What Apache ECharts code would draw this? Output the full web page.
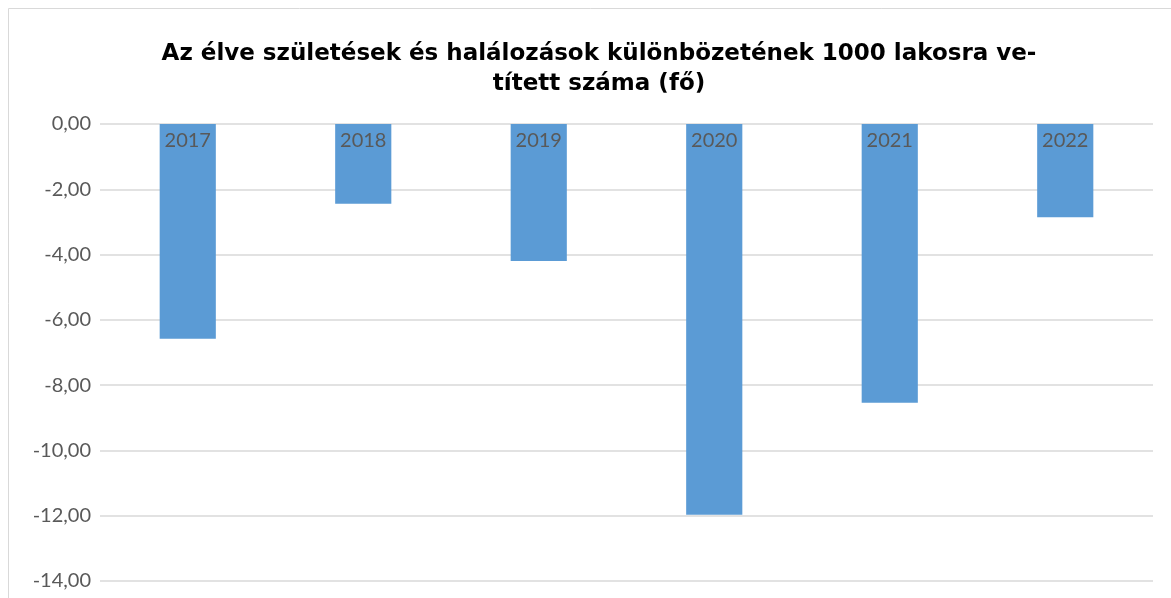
<!DOCTYPE html>
<html>
<head>
<meta charset="utf-8">
<script src="https://cdn.jsdelivr.net/npm/echarts@6/dist/echarts.min.js"></script>
<style>
  html, body { margin: 0; padding: 0; background: #fff; }
  #main { width: 1171px; height: 598px; }
</style>
</head>
<body>
<div id="main"></div>
<script>
  // évek
  const years = ['2017', '2018', '2019', '2020', '2021', '2022'];
  // élve születések és halálozások különbsége 1000 lakosra
  const values = [-6.58, -2.44, -4.20, -11.97, -8.54, -2.86];
  const titleText = 'Az élve születések és halálozások különbözetének 1000 lakosra ve-\ntített száma (fő)';

  const chart = echarts.init(document.getElementById('main'));

  const option = {
    animation: false,
    graphic: [{
      type: 'rect',
      shape: { x: 8.5, y: 8.5, width: 1300, height: 800 },
      style: { fill: 'none', stroke: '#d9d9d9', lineWidth: 1 },
      silent: true
    }],
    title: {
      text: titleText,
      left: 594,
      top: 34,
      textAlign: 'center',
      textStyle: {
        fontFamily: 'DejaVu Sans',
        fontWeight: 'bold',
        fontSize: 23,
        lineHeight: 30,
        color: '#000'
      }
    },
    grid: {
      left: 100,
      right: 18,
      top: 124,
      bottom: 17,
      containLabel: false,
      outerBoundsMode: 'none'
    },
    xAxis: {
      type: 'category',
      data: years,
      position: 'top',
      axisLine: { show: false },
      axisTick: { show: false },
      axisLabel: {
        inside: true,
        margin: 7,
        fontFamily: 'Lato',
        fontSize: 20,
        color: '#595959'
      },
      z: 10
    },
    yAxis: {
      type: 'value',
      min: -14,
      max: 0,
      interval: 2,
      axisLine: { show: false },
      axisTick: { show: false },
      splitLine: { lineStyle: { color: '#d9d9d9', width: 1.5 } },
      axisLabel: {
        margin: 9,
        fontFamily: 'Lato',
        fontSize: 20,
        color: '#595959',
        formatter: v => v.toFixed(2).replace('.', ',')
      }
    },
    series: [{
      type: 'bar',
      data: values,
      barWidth: '32%',
      itemStyle: { color: '#5b9bd5' }
    }]
  };

  chart.setOption(option);
</script>
</body>
</html>
